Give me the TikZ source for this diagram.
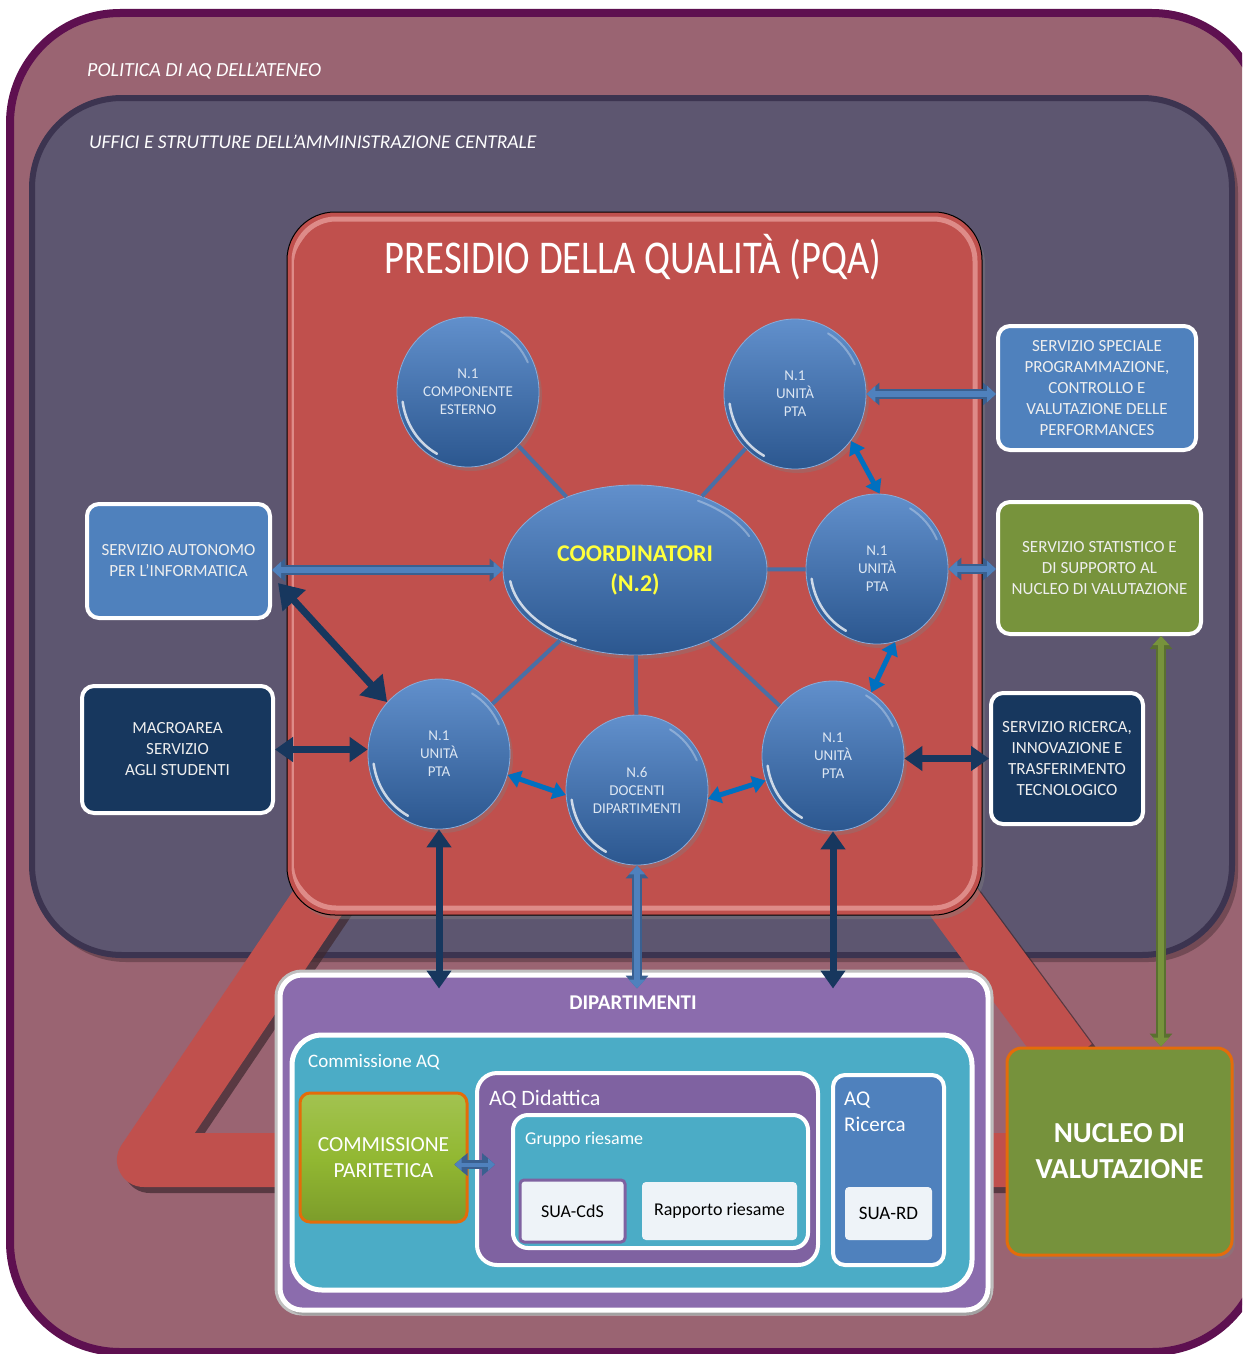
\documentclass[tikz,border=0pt]{standalone}
\usepackage{fontspec}
\setmainfont{Carlito}
\newfontfamily\titlef[FakeStretch=0.82]{Carlito}
\usetikzlibrary{shapes.geometric,arrows.meta,calc,shadows}
\definecolor{outerfill}{HTML}{9A6472}
\definecolor{outerdraw}{HTML}{5E1050}
\definecolor{uffill}{HTML}{5D5670}
\definecolor{ufdraw}{HTML}{3C3450}
\definecolor{pqared}{HTML}{C0504D}
\definecolor{pqalight}{HTML}{F2B3B0}
\definecolor{cblue}{HTML}{3A74BF}
\definecolor{ctext}{HTML}{DCE6F2}
\definecolor{linkc}{HTML}{4A6FA5}
\definecolor{lblue}{HTML}{4F81BD}
\definecolor{lblueedge}{HTML}{3A6090}
\definecolor{navy}{HTML}{17375E}
\definecolor{bright}{HTML}{0070C0}
\definecolor{olive}{HTML}{77933C}
\definecolor{oliveedge}{HTML}{5A7030}
\definecolor{dipfill}{HTML}{8B6CAD}
\definecolor{aqua}{HTML}{4BACC6}
\definecolor{didfill}{HTML}{7F62A1}
\definecolor{docfill}{HTML}{EEF3F8}
\definecolor{parit}{HTML}{92B832}
\definecolor{orangeb}{HTML}{E46C0A}
\definecolor{nucfill}{HTML}{76923C}
\definecolor{boxtext}{HTML}{EEEEEE}
\definecolor{yell}{HTML}{FFFF3C}
\newcommand\fsz[2]{\fontsize{#1}{#2}\selectfont}
\begin{document}
\begin{tikzpicture}[x=1pt,y=-1pt,
  sidebox/.style={draw=white, line width=4pt, rounded corners=12pt, align=center,
    text=boxtext, font=\fsz{17}{21}, inner sep=2pt},
  gloss/.style 2 args={path picture={
    \draw[white, opacity=.75, line width=2.5pt, line cap=round]
      ($(path picture bounding box.center)+(118:#1 and #2)$)
      arc[start angle=118, end angle=172, x radius=#1, y radius=#2];
    \draw[white, opacity=.3, line width=2pt, line cap=round]
      ($(path picture bounding box.center)+(-60:#1 and #2)$)
      arc[start angle=-60, end angle=-25, x radius=#1, y radius=#2];}},
  circ/.style={ellipse, minimum width=142pt, minimum height=150pt, inner sep=0pt,
    draw=cblue!60!white, line width=.8pt, top color=cblue!80!white, bottom color=cblue!75!black,
    align=center, text=ctext, font=\fsz{15}{18}, gloss={66}{70},
    drop shadow={shadow xshift=3pt, shadow yshift=-4pt, opacity=.35}},
  link/.style={draw=linkc, line width=4pt},
  navyarrow/.style={draw=navy, line width=7pt,
    arrows={Triangle[width=24pt,length=18pt]-Triangle[width=24pt,length=18pt]}},
  brightarrow/.style={draw=bright, line width=5pt,
    arrows={Triangle[width=17pt,length=13pt]-Triangle[width=17pt,length=13pt]}},
  lightarrow/.style={draw=lblue, line width=6pt,
    arrows={Triangle[width=16pt,length=9pt]-Triangle[width=16pt,length=9pt]},
    preaction={draw=lblueedge, line width=9.5pt,
      arrows={Triangle[width=22pt,length=13pt]-Triangle[width=22pt,length=13pt]}}},
  greenarrow/.style={draw=olive, line width=6pt,
    arrows={Triangle[width=16pt,length=9pt]-Triangle[width=16pt,length=9pt]},
    preaction={draw=oliveedge, line width=9.5pt,
      arrows={Triangle[width=22pt,length=13pt]-Triangle[width=22pt,length=13pt]}}},
  band/.style={draw=pqared, line width=54pt, line join=round},
  bandshadow/.style={draw=black!60!outerfill, line width=54pt, line join=round, opacity=.7},
  inbox/.style={draw=white, line width=4pt, align=center},
  docbox/.style={fill=docfill, rounded corners=4pt, text=black, font=\fsz{18}{22}},
  lbl/.style={anchor=base west, text=white, inner sep=0pt}
]
\clip (0,0) rectangle (1242,1354);
\fill[white] (0,0) rectangle (1242,1354);

% outer frame: policy of the university
\draw[line width=8pt, draw=outerdraw, fill=outerfill, rounded corners=110pt]
  (10,13) rectangle (1262,1352);
\node[lbl, font=\itshape\fsz{20}{24}] (pol) at (87,76) {POLITICA DI AQ DELL’ATENEO};

% central offices frame
\fill[black, opacity=.25, rounded corners=90pt] (36,103) rectangle (1238,962);
\draw[line width=6pt, draw=ufdraw, fill=uffill, rounded corners=90pt]
  (32,98) rectangle (1232,955);
\node[lbl, font=\itshape\fsz{19.5}{24}] (uff) at (89,148) {UFFICI E STRUTTURE DELL’AMMINISTRAZIONE CENTRALE};

% red triangle band
\draw[bandshadow] (366,846) -- (150,1166) -- (1015,1166);
\draw[bandshadow] (936,876) -- (1076,1066);
\draw[band] (360,840) -- (144,1160) -- (1015,1160);
\draw[band] (930,870) -- (1070,1060);

% PQA
\node[draw=black, line width=1pt, fill=pqared, rounded corners=48pt,
  minimum width=695pt, minimum height=703pt,
  drop shadow={shadow xshift=3pt, shadow yshift=-4pt, opacity=.4}] (pqa) at (634.5,563.5) {};
\draw[pqalight, line width=5pt, opacity=.6, rounded corners=42pt]
  (294,219) rectangle (975,908);
\fill[pqared, rounded corners=36pt] (294,228) rectangle (966,900);
\node[text=white, font=\titlef\fsz{47}{52}] (pqatitle) at (633,257) {PRESIDIO DELLA QUALITÀ (PQA)};

% circles
\node[ellipse, minimum width=264pt, minimum height=170pt, inner sep=0pt,
  draw=cblue!60!white, line width=.8pt, top color=cblue!80!white, bottom color=cblue!75!black,
  align=center, text=yell, font=\bfseries\fsz{24}{30}, gloss={126}{80},
  drop shadow={shadow xshift=3pt, shadow yshift=-4pt, opacity=.35}] (coord) at (635,570)
  {COORDINATORI\\(N.2)};
\node[circ] (c1) at (468,392) {N.1\\COMPONENTE\\ESTERNO};
\node[circ] (c2) at (795,394) {N.1\\UNITÀ\\PTA};
\node[circ] (c3) at (877,569) {N.1\\UNITÀ\\PTA};
\node[circ] (c4) at (833,756) {N.1\\UNITÀ\\PTA};
\node[circ] (c5) at (637,790) {N.6\\DOCENTI\\DIPARTIMENTI};
\node[circ] (c6) at (439,754) {N.1\\UNITÀ\\PTA};

\draw[link] (coord) -- (c1);
\draw[link] (coord) -- (c2);
\draw[link] (coord) -- (c3);
\draw[link] (coord) -- (c4);
\draw[link] (coord) -- (c5);
\draw[link] (coord) -- (c6);

\draw[brightarrow] (c2.-40) -- (c3.88);
\draw[brightarrow] (c3.-76) -- (c4.59);
\draw[brightarrow] (c6.-17) -- (c5.184);
\draw[brightarrow] (c5.-7) -- (c4.200);

% side boxes
\node[sidebox, fill=lblue, minimum width=183pt, minimum height=114pt] (sa) at (178.5,561)
  {SERVIZIO AUTONOMO\\PER L'INFORMATICA};
\node[sidebox, fill=navy, minimum width=191pt, minimum height=127pt] (ma) at (177.5,749.5)
  {MACROAREA\\SERVIZIO\\AGLI STUDENTI};
\node[sidebox, fill=lblue, minimum width=198pt, minimum height=124pt] (ss) at (1097,388)
  {SERVIZIO SPECIALE\\PROGRAMMAZIONE,\\CONTROLLO E\\VALUTAZIONE DELLE\\PERFORMANCES};
\node[sidebox, fill=olive, minimum width=203pt, minimum height=132pt] (sst) at (1099.5,568)
  {SERVIZIO STATISTICO E\\DI SUPPORTO AL\\NUCLEO DI VALUTAZIONE};
\node[sidebox, fill=navy, minimum width=152pt, minimum height=131pt] (sr) at (1067,758.5)
  {SERVIZIO RICERCA,\\INNOVAZIONE E\\TRASFERIMENTO\\TECNOLOGICO};

% departments
\node[draw=white, line width=5pt, fill=dipfill, rounded corners=22pt,
  minimum width=708pt, minimum height=335pt,
  preaction={draw=black!25, line width=11pt, rounded corners=22pt},
  drop shadow={shadow xshift=3pt, shadow yshift=-5pt, opacity=.45}] (dip) at (634,1142.5) {};
\node[text=white, font=\bfseries\fsz{21}{24}] (diptitle) at (633,1003) {DIPARTIMENTI};
\node[inbox, line width=5pt, fill=aqua, rounded corners=30pt,
  minimum width=680pt, minimum height=255pt] (comm) at (632,1162.5) {};
\node[lbl, font=\fsz{19}{22}] (commlbl) at (308,1067) {Commissione AQ};
\node[draw=orangeb, line width=3pt, top color=parit!85!white, bottom color=parit!85!black,
  middle color=parit, rounded corners=10pt, minimum width=167pt, minimum height=129pt,
  align=center, text=white, font=\fsz{21.5}{26}] (par) at (383.5,1157.5)
  {COMMISSIONE\\PARITETICA};
\node[inbox, fill=didfill, rounded corners=20pt, minimum width=341pt, minimum height=192pt]
  (did) at (647.5,1169) {};
\node[lbl, font=\fsz{22}{26}] (didlbl) at (489,1105) {AQ Didattica};
\node[inbox, fill=aqua, rounded corners=15pt, minimum width=295pt, minimum height=133pt]
  (grp) at (660.5,1181.5) {};
\node[lbl, font=\fsz{18}{22}] (grplbl) at (525,1144) {Gruppo riesame};
\node[docbox, draw=didfill, line width=3pt, minimum width=105pt, minimum height=62pt]
  (suacds) at (572.5,1211) {SUA-CdS};
\node[docbox, minimum width=155pt, minimum height=58pt] (rapp) at (719.5,1211) {Rapporto riesame};
\node[inbox, fill=lblue, rounded corners=12pt, minimum width=111pt, minimum height=190pt]
  (ric) at (888.5,1170) {};
\node[lbl, font=\fsz{21}{26}] (riclbl1) at (844,1105) {AQ};
\node[lbl, font=\fsz{21}{26}] (riclbl2) at (844,1131) {Ricerca};
\node[docbox, font=\fsz{19}{22}, minimum width=87pt, minimum height=53pt] (suard) at (888.5,1213.5) {SUA-RD};

\draw[lightarrow, line width=4pt,
  arrows={Triangle[width=12pt,length=7pt]-Triangle[width=12pt,length=7pt]},
  preaction={draw=lblueedge, line width=7pt,
    arrows={Triangle[width=17pt,length=10pt]-Triangle[width=17pt,length=10pt]}}]
  ($(par.east)+(-14,7)$) -- ($(par.east -| grp.west)+(-16,7)$);

% nucleo
\node[draw=orangeb, line width=3pt, fill=nucfill, rounded corners=15pt,
  minimum width=225pt, minimum height=207pt, align=center, text=white,
  font=\bfseries\fsz{29}{36},
  drop shadow={shadow xshift=3pt, shadow yshift=-4pt, opacity=.45}] (nuc) at (1119.5,1151.5)
  {NUCLEO DI\\VALUTAZIONE};

% connectors between offices and PQA
\draw[lightarrow] (c2.east) -- (c2.east -| ss.west);
\draw[lightarrow] (c3.east) -- (c3.east -| sst.west);
\draw[lightarrow] (sa.east |- coord.west) -- (coord.west);
\draw[navyarrow, arrows={Triangle[width=30pt,length=24pt]-Triangle[width=30pt,length=24pt]}]
  ([yshift=-22pt, xshift=6pt]sa.east) -- (c6.135);
\draw[navyarrow] (ma.east) -- (ma.east -| c6.west);
\draw[navyarrow] (sr.west) -- (sr.west -| c4.east);
\coordinate (d6) at ($(c6.south |- dip.north)+(0,16)$);
\coordinate (d4) at ($(c4.south |- dip.north)+(0,16)$);
\coordinate (d5) at ($(c5.south |- dip.north)+(0,16)$);
\draw[navyarrow] (c6.south) -- (d6);
\draw[navyarrow] (c4.south) -- (d4);
\draw[lightarrow] (c5.south) -- (d5);
\coordinate (gtop) at ($(sst.south)+(61.5,0)$);
\coordinate (gbot) at (gtop |- nuc.north);
\draw[greenarrow] (gtop) -- (gbot);
\end{tikzpicture}
\end{document}
